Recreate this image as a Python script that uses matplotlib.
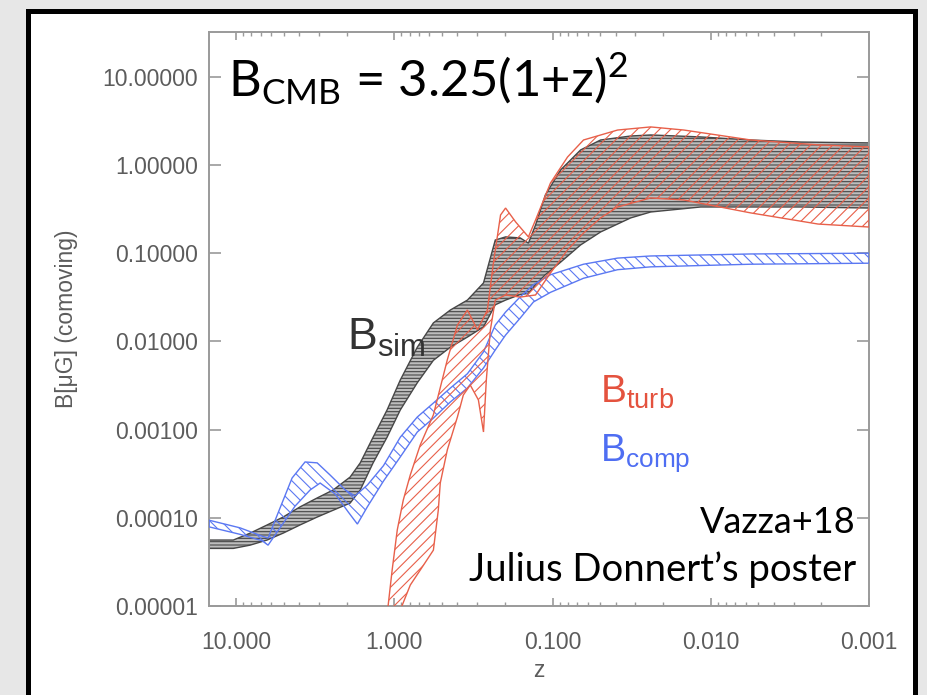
import numpy as np
import matplotlib
matplotlib.use('Agg')
import matplotlib.pyplot as plt
from matplotlib.patches import Rectangle

plt.rcParams['font.family'] = ['Liberation Sans', 'DejaVu Sans']
plt.rcParams['hatch.linewidth'] = 0.8

# B_sim band (grey), same z grid for top and bottom
z_sim = [14.8, 10.4, 8.15, 6.36, 5.04, 3.94, 3.07, 2.43, 1.90, 1.64, 1.36, 1.11, 0.916,
         0.715, 0.566, 0.442, 0.345, 0.273, 0.230, 0.198, 0.160, 0.142, 0.128, 0.111,
         0.089, 0.0665, 0.0497, 0.0321, 0.024, 0.0116, 0.00558, 0.00269, 0.001]
sim_top = [5.6e-5, 5.6e-5, 6.7e-5, 8.3e-5, 1.02e-4, 1.33e-4, 1.68e-4, 2.07e-4, 2.9e-4, 4.2e-4,
           8.2e-4, 1.67e-3, 3.65e-3, 8.6e-3, 1.62e-2, 2.27e-2, 2.94e-2, 4.6e-2, 0.141, 0.153,
           0.149, 0.13, 0.209, 0.457, 0.877, 1.48, 1.92, 2.13, 2.19, 2.08, 1.92, 1.82, 1.78]
sim_bot = [4.5e-5, 4.5e-5, 4.9e-5, 5.6e-5, 6.7e-5, 8.3e-5, 1.02e-4, 1.22e-4, 1.47e-4, 2.07e-4,
           4.2e-4, 8.2e-4, 1.67e-3, 3.4e-3, 6.1e-3, 8.6e-3, 1.12e-2, 1.46e-2, 2.6e-2, 2.94e-2,
           3.4e-2, 3.5e-2, 4.4e-2, 5.7e-2, 0.079, 0.124, 0.174, 0.251, 0.293, 0.334, 0.334,
           0.334, 0.325]

# B_turb band (red)
z_turb_top = [1.12, 1.03, 0.957, 0.877, 0.792, 0.685, 0.566, 0.462, 0.399, 0.345, 0.298,
              0.258, 0.236, 0.213, 0.198, 0.171, 0.142, 0.128, 0.103, 0.0804, 0.0637,
              0.0388, 0.024, 0.0148, 0.00558, 0.0021, 0.001]
turb_top = [6.9e-6, 2.6e-5, 7.3e-5, 1.59e-4, 3.06e-4, 6.7e-4, 1.47e-3, 6.2e-3, 1.53e-2,
            2.27e-2, 1.35e-2, 2.27e-2, 7.9e-2, 0.271, 0.325, 0.226, 0.153, 0.238, 0.625,
            1.23, 1.92, 2.49, 2.70, 2.49, 1.92, 1.69, 1.60]
z_turb_bot = [0.943, 0.792, 0.685, 0.566, 0.527, 0.512, 0.462, 0.399, 0.366, 0.331, 0.294,
              0.273, 0.262, 0.247, 0.230, 0.198, 0.160, 0.128, 0.103, 0.0804, 0.0637,
              0.0497, 0.0388, 0.024, 0.0148, 0.00558, 0.0021, 0.001]
turb_bot = [7.9e-6, 1.73e-5, 2.56e-5, 4.3e-5, 1.22e-4, 2.48e-4, 5.9e-4, 1.39e-3, 2.47e-3,
            3.2e-3, 2.17e-3, 9.4e-4, 3.65e-3, 1.35e-2, 2.94e-2, 3.36e-2, 3.18e-2, 3.36e-2,
            5.97e-2, 0.109, 0.169, 0.251, 0.334, 0.423, 0.401, 0.286, 0.214, 0.198]

# B_comp band (blue)
z_comp_top = [14.8, 9.43, 6.84, 6.27, 5.27, 4.42, 3.66, 3.07, 2.54, 2.04, 1.77, 1.48, 1.17,
              0.916, 0.715, 0.566, 0.442, 0.345, 0.273, 0.230, 0.198, 0.160, 0.132, 0.103,
              0.0637, 0.0388, 0.024, 0.00558, 0.001]
comp_top = [9.4e-5, 7.7e-5, 6.2e-5, 5.9e-5, 1.29e-4, 2.83e-4, 4.3e-4, 4.2e-4, 3.05e-4,
            2.07e-4, 1.77e-4, 2.35e-4, 3.9e-4, 8.2e-4, 1.39e-3, 2.0e-3, 2.96e-3, 4.3e-3,
            7.6e-3, 1.53e-2, 2.15e-2, 3.2e-2, 4.4e-2, 5.7e-2, 7.5e-2, 8.8e-2, 9.3e-2,
            9.8e-2, 0.100]
z_comp_bot = [14.8, 9.43, 6.84, 6.27, 5.27, 4.23, 3.40, 2.94, 2.36, 1.95, 1.71, 1.48, 1.17,
              0.916, 0.715, 0.566, 0.442, 0.345, 0.273, 0.230, 0.198, 0.160, 0.132, 0.103,
              0.0637, 0.0388, 0.024, 0.00558, 0.001]
comp_bot = [7.9e-5, 6.5e-5, 5.5e-5, 4.9e-5, 7.7e-5, 1.36e-4, 2.07e-4, 2.48e-4, 1.86e-4,
            1.16e-4, 8.5e-5, 1.33e-4, 2.61e-4, 4.9e-4, 9.4e-4, 1.35e-3, 2.06e-3, 2.96e-3,
            5.0e-3, 8.0e-3, 1.18e-2, 1.84e-2, 2.8e-2, 3.6e-2, 5.2e-2, 6.5e-2, 7.0e-2,
            7.5e-2, 7.7e-2]

x_ticks = [10, 1, 0.1, 0.01, 0.001]
x_labels = ['10.000', '1.000', '0.100', '0.010', '0.001']
y_ticks = [1e-5, 1e-4, 1e-3, 1e-2, 1e-1, 1, 10]
y_labels = ['0.00001', '0.00010', '0.00100', '0.01000', '0.10000', '1.00000', '10.00000']

grey_c = '#474747'
red_c = '#e8604a'
blue_c = '#5b78f2'
tick_c = '#9a9a9a'
lab_c = '#5c5c5c'


def band(ax, zt, bt, zb, bb, **kw):
    xs = np.concatenate([zt, zb[::-1]])
    ys = np.concatenate([bt, bb[::-1]])
    ax.fill(xs, ys, **kw)


fig = plt.figure(figsize=(9.27, 6.95), dpi=100, facecolor='#e7e7e7')
fig.patches.append(Rectangle((0.0297, -0.05), 0.957, 1.034, transform=fig.transFigure,
                             facecolor='white', edgecolor='black', linewidth=3.6, zorder=-5))

ax = fig.add_axes([0.2255, 0.128, 0.712, 0.826])
ax.set_facecolor('white')
ax.set_xscale('log')
ax.set_yscale('log')

band(ax, np.array(z_sim), np.array(sim_top), np.array(z_sim), np.array(sim_bot),
     facecolor='#bdbdbd', edgecolor=grey_c, hatch='-----', linewidth=1.0, zorder=2)
band(ax, np.array(z_comp_top), np.array(comp_top), np.array(z_comp_bot), np.array(comp_bot),
     facecolor='none', edgecolor=blue_c, hatch='\\\\\\', linewidth=1.0, zorder=3)
band(ax, np.array(z_turb_top), np.array(turb_top), np.array(z_turb_bot), np.array(turb_bot),
     facecolor='none', edgecolor=red_c, hatch='///', linewidth=1.0, zorder=4)

ax.set_xlim(14.8, 0.001)
ax.set_ylim(1e-5, 32.2)
ax.set_xticks(x_ticks)
ax.set_xticklabels(x_labels)
ax.set_yticks(y_ticks)
ax.set_yticklabels(y_labels)
ax.yaxis.set_minor_locator(matplotlib.ticker.NullLocator())

for s in ax.spines.values():
    s.set_color(tick_c)
    s.set_linewidth(1.4)
ax.tick_params(which='both', direction='in', top=True, right=True, color=tick_c,
               labelcolor=lab_c, labelsize=16.5)
ax.tick_params(which='major', length=6, width=1.2)
ax.tick_params(which='minor', length=3, width=1.0)
ax.tick_params(axis='y', which='major', length=8.5)
ax.tick_params(axis='x', pad=18)
ax.tick_params(axis='y', pad=8)

ax.set_ylabel('B[\u03bcG] (comoving)', fontsize=16.5, color=lab_c)
ax.yaxis.set_label_coords(-0.198, 0.5)
ax.set_xlabel('z', fontsize=16.5, color=lab_c)
ax.xaxis.set_label_coords(0.5, -0.093)

ax.text(0.209, 0.446, r'$\mathregular{B_{sim}}$', transform=ax.transAxes, fontsize=32,
        color='#333333', zorder=6)
ax.text(0.592, 0.355, r'$\mathregular{B_{turb}}$', transform=ax.transAxes, fontsize=28,
        color='#e4523e', zorder=6)
ax.text(0.592, 0.254, r'$\mathregular{B_{comp}}$', transform=ax.transAxes, fontsize=27,
        color='#4f6ef2', zorder=6)

ax.text(0.029, 0.887, r'$\mathregular{B_{CMB}}$ = 3.25(1+z)$^{\mathregular{2}}$',
        transform=ax.transAxes, fontsize=36.5, family=['Lato', 'DejaVu Sans'], color='black',
        zorder=7)
ax.text(0.980, 0.127, 'Vazza+18', transform=ax.transAxes, fontsize=26, ha='right',
        family=['Lato', 'DejaVu Sans'], color='black', zorder=7)
ax.text(0.980, 0.044, 'Julius Donnert\u2019s poster', transform=ax.transAxes, fontsize=27.5,
        ha='right', family=['Lato', 'DejaVu Sans'], color='black', zorder=7)

fig.savefig('out.png', dpi=100, facecolor=fig.get_facecolor())
